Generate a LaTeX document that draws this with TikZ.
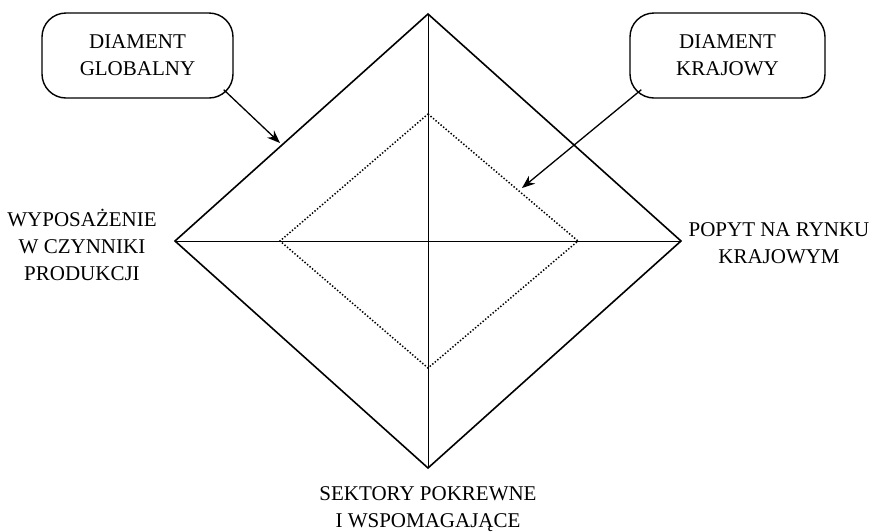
\documentclass[tikz,border=0pt]{standalone}
\usepackage{fontspec}
\setmainfont{Liberation Serif}
\usetikzlibrary{arrows.meta}
\begin{document}
\begin{tikzpicture}[x=1pt,y=-1pt,
  box/.style={draw,line width=1.4pt,rounded corners=24pt,minimum width=191pt,minimum height=85pt,align=center,font=\fontsize{21}{27}\selectfont,inner sep=0pt},
  lbl/.style={align=center,font=\fontsize{21}{27}\selectfont,inner sep=0pt},
  outer/.style={line width=1.6pt,line join=miter},
  axis/.style={line width=1pt},
  inner/.style={line width=1.5pt,dash pattern=on 1.4pt off 1.9pt},
  pointer/.style={line width=1.3pt,-{Stealth[length=13pt,width=10pt]}}]
\useasboundingbox (0,0) rectangle (879,531);
\coordinate (T) at (428,14);
\coordinate (L) at (175,241);
\coordinate (R) at (681,241);
\coordinate (B) at (428,468);
\coordinate (iT) at (428,114);
\coordinate (iL) at (280,241);
\coordinate (iR) at (578,241);
\coordinate (iB) at (428,368);
\draw[axis] (L) -- (R);
\draw[axis] (T) -- (B);
\draw[inner] (iT) -- (iR) -- (iB) -- (iL) -- cycle;
\draw[outer] (T) -- (R) -- (B) -- (L) -- cycle;
\node[box] (g) at (137.5,55.5) {DIAMENT\\GLOBALNY};
\node[box,minimum width=195pt] (k) at (727.5,55.5) {DIAMENT\\KRAJOWY};
\coordinate (ga) at (280,143);
\coordinate (ka) at (522,188);
\draw[pointer] (g.south east) ++(-10,-9) coordinate (gs) -- (ga);
\draw[pointer] (k.south west) ++(12,-9) coordinate (ks) -- (ka);
\node[lbl] (w) at (82,245) {WYPOSAŻENIE\\W CZYNNIKI\\PRODUKCJI};
\node[lbl] (p) at (779,243) {POPYT NA RYNKU\\KRAJOWYM};
\node[lbl] (s) at (428,509) {SEKTORY POKREWNE\\I WSPOMAGAJĄCE};
\end{tikzpicture}
\end{document}
